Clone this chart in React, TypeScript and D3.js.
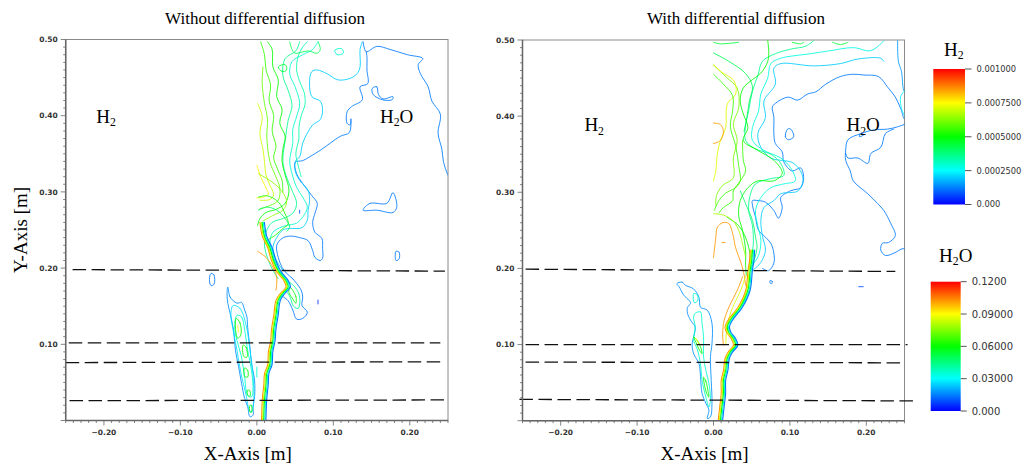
import React from "react";
import * as d3 from "d3";

// ---------- axes / labels ----------
const xTicksMM = [-200, -100, 0, 100, 200];
const yTicksMM = [100, 200, 300, 400, 500];
const panelTitles = ["Without differential diffusion", "With differential diffusion"];
const h2Ticks = [0, 0.00025, 0.0005, 0.00075, 0.001];
const h2TickLabels = ["0.000", "0.0002500", "0.0005000", "0.0007500", "0.001000"];
const h2oTicks = [0, 0.03, 0.06, 0.09, 0.12];
const h2oTickLabels = ["0.000", "0.03000", "0.06000", "0.09000", "0.1200"];

// ---------- contour data (mm; level normalised 0..1) ----------
type C = { lv: number; p: number[][] };

const leftContours: C[] = [
  { lv: 0.12, p: [[139,497],[143,484],[157,491],[174,487],[197,480],[217,475],[211,467],[214,455],[224,438],[229,419],[240,402],[237,377],[242,356],[244,340],[249,324],[250,322]] },
  { lv: 0.12, p: [[143,484],[144,477],[144,460],[145,442],[135,438],[138,421],[124,412],[118,405],[118,390],[122,388],[123,396],[121,378],[109,373],[96,364],[85,356],[69,346],[60,341],[50,339],[52,324],[60,311],[72,295],[79,285],[76,272],[73,260],[76,247],[85,239],[86,226],[86,213],[83,210],[76,214],[73,223],[67,236],[56,240],[43,242],[33,239],[26,230],[28,214],[33,201],[39,193],[46,187],[52,180],[58,171],[60,162],[59,151],[66,142],[60,134],[52,133],[47,145],[41,157],[35,162]] },
  { lv: 0.2, p: [[138,497],[135,487],[135,464],[131,455],[122,449],[106,447],[92,455],[79,460],[72,458],[69,447],[72,425],[83,419],[86,408],[83,395],[73,388],[66,377],[60,364],[56,346],[51,341],[50,328],[56,315],[67,302],[69,289],[67,276],[66,263],[59,253],[43,252],[34,250],[26,240],[21,227],[24,214],[28,206],[34,197]] },
  { lv: 0.3, p: [[80,497],[73,487],[60,480],[46,471],[43,455],[50,438],[56,416],[52,399],[47,382],[47,364],[43,341],[46,324],[52,306],[60,293],[66,280],[60,267],[52,259],[39,256],[30,253],[21,247],[17,233],[20,217],[26,201],[33,191]] },
  { lv: 0.33, p: [[66,497],[60,490],[54,478],[52,460],[56,445],[62,430],[63,415],[58,400],[55,385],[55,370],[51,350],[54,335],[58,320]] },
  { lv: 0.36, p: [[56,497],[51,485],[37,475],[34,453],[41,433],[46,413],[41,394],[37,367],[34,341],[38,322],[46,302],[52,285],[47,272],[34,265],[20,260],[12,247],[10,230],[14,213],[21,197],[28,186]] },
  { lv: 0.42, p: [[43,497],[46,487],[50,482],[67,485],[79,482],[83,487],[80,497]] },
  { lv: 0.3, p: [[102,486],[105,480],[113,482],[111,488],[102,486]] },
  { lv: 0.45, p: [[28,464],[33,458],[39,460],[37,467],[28,464]] },
  { lv: 0.5, p: [[14,497],[20,487],[21,464],[28,447],[26,425],[33,408],[30,390],[37,373],[34,356],[33,340],[37,322],[42,302],[37,285],[25,277],[12,273],[4,265],[1,256]] },
  { lv: 0.55, p: [[5,497],[10,480],[12,460],[18,440],[16,420],[22,400],[20,380],[25,360],[22,345],[27,330],[33,315],[34,300]] },
  { lv: 0.6, p: [[8,464],[7,442],[10,416],[14,395],[13,373],[17,340],[24,322],[30,305],[28,289],[17,282],[4,278]] },
  { lv: 0.7, p: [[1,416],[7,399],[4,377],[8,356],[10,340],[12,322],[17,309],[22,296],[17,290],[4,289]] },
  { lv: 0.76, p: [[0,335],[5,320],[12,305],[15,297],[8,293],[0,292]] },
  { lv: 0.64, p: [[2,324],[17,315],[32,302],[39,287],[34,276],[21,269],[8,262]] },
  { lv: 0.52, p: [[2,293],[13,295],[28,287],[37,271],[41,258],[34,252],[24,243],[14,237]] },
  { lv: 0.4, p: [[2,276],[13,280],[26,276],[37,265],[43,254],[39,248]] },
  { lv: 0.85, p: [[1,222],[12,214],[21,201],[26,188],[25,171]] },
  { lv: 0.35, p: [[39,184],[50,175],[56,162],[54,147],[48,150],[43,163],[37,171]] },
  { lv: 0.5, p: [[43,175],[51,163],[51,154],[46,161],[42,168],[43,175]] },
  { lv: 0.14, p: [[-38,175],[-35,162],[-26,154],[-20,155],[-16,145],[-13,136],[-12,122],[-9,96],[-7,75],[-3,53],[-3,31],[-5,18],[-5,7],[-9,5],[-12,18],[-16,29],[-20,49],[-24,71],[-28,92],[-30,115],[-33,132],[-35,141],[-38,154],[-39,167],[-38,175]] },
  { lv: 0.22, p: [[-31,151],[-22,147],[-14,125],[-9,92],[-5,60],[-4,27],[-7,11],[-10,14],[-14,33],[-21,63],[-26,92],[-31,119],[-34,138],[-31,151]] },
  { lv: 0.3, p: [[-26,138],[-20,136],[-16,119],[-12,92],[-7,66],[-5,40],[-7,31],[-12,33],[-16,57],[-20,83],[-26,105],[-29,122],[-26,138]] },
  { lv: 0.5, p: [[-27,134],[-22,128],[-21,112],[-25,108],[-28,121],[-27,134]] },
  { lv: 0.5, p: [[-18,99],[-14,96],[-13,83],[-17,84],[-18,99]] },
  { lv: 0.5, p: [[-16,69],[-12,66],[-12,57],[-16,58],[-16,69]] },
  { lv: 0.5, p: [[-12,40],[-9,39],[-9,32],[-12,33],[-12,40]] },
  { lv: 0.5, p: [[-9,20],[-7,20],[-7,11],[-9,11],[-9,20]] },
  { lv: 0.75, p: [[-25,125],[-24,116]] },
  { lv: 0.12, p: [[-60,193],[-56,191],[-56,179],[-60,177],[-62,185],[-60,193]] },
  { lv: 0.12, p: [[182,222],[186,221],[186,212],[182,210],[181,217],[182,222]] },
  { lv: 0.12, p: [[139,276],[148,285],[170,285],[178,299],[183,280],[178,273],[157,276],[139,276]] },
  { lv: 0.12, p: [[151,436],[157,438],[159,428],[165,422],[178,425],[177,421],[164,421],[152,428],[151,436]] },
  { lv: 0.05, p: [[80,158],[80,153]] },
  { lv: 0.3, p: [[0,70],[0,57]] },
  { lv: 0.08, p: [[56,276],[56,272]] },
];

const leftStem: number[][] = [[7,260],[10,242],[17,227],[22,210],[29,195],[38,184],[41,175],[34,167],[28,158],[25,138],[22,119],[21,105],[18,90],[17,73],[13,62],[12,47],[10,27],[9,0]];

const rightContours: C[] = [
  { lv: 0.12, p: [[249,397],[245,410],[238,425],[228,438],[216,452],[197,454],[182,455],[166,452],[147,442],[134,432],[123,429],[110,421],[98,425],[84,419],[77,412],[79,399],[79,377],[81,364],[90,353],[92,340],[103,328],[114,332],[118,319],[114,306],[101,302],[88,293],[90,280],[85,266],[79,276],[68,287],[59,289],[51,289],[51,283],[55,267],[59,250],[68,241],[75,233],[79,220],[79,207],[72,197],[64,200]] },
  { lv: 0.15, p: [[241,499],[242,472],[246,459],[249,434],[252,430]] },
  { lv: 0.25, p: [[252,435],[245,426],[247,407],[252,398]] },
  { lv: 0.12, p: [[252,390],[241,386],[228,383],[210,382],[193,377],[176,369],[173,355],[173,342],[179,328],[183,315],[202,298],[215,285],[223,276],[232,259],[238,243],[229,234],[221,233],[219,224],[225,217],[236,220],[248,226],[252,224]] },
  { lv: 0.12, p: [[236,383],[225,377],[219,359],[206,351],[202,338],[189,345],[176,345],[173,351]] },
  { lv: 0.12, p: [[97,383],[94,373],[98,369],[105,373],[101,383],[97,383]] },
  { lv: 0.12, p: [[193,378],[196,375],[191,373],[193,378]] },
  { lv: 0.08, p: [[190,176],[196,176]] },
  { lv: 0.12, p: [[74,184],[77,183],[76,180],[74,181],[74,184]] },
  { lv: 0.2, p: [[223,472],[219,476],[189,475],[166,469],[131,466],[88,469],[79,463],[81,442],[66,420],[68,398],[58,377],[62,359],[75,345],[105,338],[117,319],[111,302],[88,298],[79,289],[66,280],[62,263],[64,243],[68,224],[62,208],[51,197]] },
  { lv: 0.28, p: [[223,499],[206,486],[183,490],[153,486],[127,482],[88,476],[75,469],[71,450],[62,429],[59,407],[51,385],[51,368],[66,355],[88,345],[101,332],[107,315],[92,311],[75,306],[62,293],[55,276],[58,256],[62,237],[59,217],[51,204],[48,197]] },
  { lv: 0.36, p: [[131,499],[121,492],[101,488],[81,482],[64,472],[58,453],[51,433],[46,407],[42,387],[42,368],[55,357],[75,350],[88,338],[92,322],[75,318],[55,311],[48,296],[46,276],[51,256],[52,230],[48,210],[46,197]] },
  { lv: 0.42, p: [[0,483],[20,472],[42,456],[51,439],[47,420],[44,400],[40,380]] },
  { lv: 0.5, p: [[71,499],[72,476],[64,459],[39,437],[35,420],[39,403],[45,385],[39,368],[58,355],[79,342],[90,325],[79,315],[58,315],[45,306],[35,289],[33,269],[38,250],[42,224],[42,204],[43,191]] },
  { lv: 0.45, p: [[0,497],[9,495],[33,497]] },
  { lv: 0.45, p: [[103,497],[114,495],[118,497]] },
  { lv: 0.45, p: [[156,497],[166,494],[176,497]] },
  { lv: 0.55, p: [[38,368],[39,342],[42,328],[35,315],[26,302],[25,289],[13,280],[7,273]] },
  { lv: 0.62, p: [[0,467],[18,450],[31,437],[33,411],[26,390],[31,368],[26,345],[26,319],[12,309],[4,296],[3,283]] },
  { lv: 0.72, p: [[0,468],[9,459],[27,446],[29,429],[18,416],[16,385],[9,368],[5,350],[3,328],[0,315]] },
  { lv: 0.56, p: [[0,455],[12,443],[25,427],[25,407],[22,387],[29,361],[33,335],[35,315],[29,306],[16,299],[7,289],[1,276]] },
  { lv: 0.4, p: [[35,302],[42,285],[51,263],[55,241],[57,228],[53,210],[49,199]] },
  { lv: 0.5, p: [[18,267],[31,258],[40,245],[46,228],[48,215],[47,200]] },
  { lv: 0.66, p: [[0,272],[13,270],[25,263],[33,250],[38,232],[42,215]] },
  { lv: 0.85, p: [[0,214],[3,240],[5,254],[12,260],[20,259],[25,246],[29,227],[35,210],[39,197],[42,178]] },
  { lv: 0.85, p: [[11,234],[15,234]] },
  { lv: 0.85, p: [[0,391],[9,389],[13,380],[9,368],[0,364]] },
  { lv: 0.85, p: [[38,189],[31,171],[21,151],[14,132],[12,115],[13,99]] },
  { lv: 0.72, p: [[42,190],[36,172],[27,153],[20,134],[17,116],[16,100]] },
  { lv: 0.14, p: [[-48,180],[-41,182],[-37,178],[-26,173],[-19,162],[-17,149],[-8,145],[-2,128],[-2,101],[-4,84],[-3,53],[-2,23],[-4,5],[-8,3],[-6,14],[-10,23],[-15,36],[-17,58],[-19,75],[-26,88],[-28,101],[-26,110],[-24,123],[-30,132],[-34,141],[-34,149],[-30,154],[-32,158],[-39,165],[-45,176],[-48,180]] },
  { lv: 0.3, p: [[-24,141],[-17,143],[-15,128],[-13,110],[-13,84],[-10,66],[-6,49],[-4,27],[-6,18],[-10,31],[-15,53],[-17,75],[-21,93],[-26,106],[-24,123],[-26,136],[-24,141]] },
  { lv: 0.3, p: [[-26,167],[-21,165],[-21,157],[-25,155],[-26,167]] },
  { lv: 0.5, p: [[-26,110],[-21,105],[-17,97],[-15,88],[-18,92],[-23,103],[-26,110]] },
  { lv: 0.5, p: [[-13,57],[-10,52],[-7,38],[-6,31],[-9,36],[-12,48],[-13,57]] },
  { lv: 0.75, p: [[-23,108],[-19,101]] },
];

const rightStem: number[][] = [[51,224],[50,210],[48,197],[45,171],[35,149],[22,132],[18,123],[20,116],[26,108],[29,99],[22,90],[18,82],[16,66],[13,53],[13,36],[11,18],[9,0]];

// dashed cut lines: [x0, y0, x1, y1] in mm
const leftCuts = [[-241,198,246,196],[-246,102,240,102],[-250,76,244,77],[-245,26,250,27]];
const rightCuts = [[-246,199,238,196],[-246,100,254,100],[-246,77,249,76],[-254,28,262,26]];

// stem bundle levels (left to right)
const stemLevels = [0.85, 0.7, 0.5, 0.3, 0.12];

// in-plot labels (mm)
const leftLabels = [{ x: -210, y: 391, o: false }, { x: 161, y: 391, o: true }];
const rightLabels = [{ x: -169, y: 380, o: false }, { x: 174, y: 380, o: true }];

const jet = d3.scaleLinear<string>()
  .domain([0, 0.25, 0.5, 0.75, 1])
  .range(["#0000ff", "#00ffff", "#00ff00", "#ffff00", "#ff0000"]);

const serif = "'Liberation Serif', 'DejaVu Serif', serif";
const sans = "'DejaVu Sans', sans-serif";

function Formula({ x, y, o, size }: { x: number; y: number; o: boolean; size: number }) {
  return (
    <text x={x} y={y} fontFamily={serif} fontSize={size} fill="#000">
      H<tspan fontSize={size * 0.62} dy={size * 0.18}>2</tspan>
      {o ? <tspan dy={-size * 0.18}>O</tspan> : null}
    </text>
  );
}

function Panel({ idx, x0, x1, yTop, yBot, contours, stem, cuts, labels, title, titleX }: any) {
  const xs = d3.scaleLinear().domain([-250, 250]).range([x0, x1]);
  const ys = d3.scaleLinear().domain([0, 500]).range([yBot, yTop]);
  const open = d3.line<number[]>().x(d => xs(d[0])).y(d => ys(d[1])).curve(d3.curveCatmullRom.alpha(0.5));
  const closed = d3.line<number[]>().x(d => xs(d[0])).y(d => ys(d[1])).curve(d3.curveCatmullRomClosed.alpha(0.5));
  const path = (p: number[][]) => {
    const f = p[0], l = p[p.length - 1];
    if (p.length > 3 && f[0] === l[0] && f[1] === l[1]) return closed(p.slice(0, -1)) as string;
    return open(p) as string;
  };
  const minorX = d3.range(-250, 251, 10);
  const minorY = d3.range(0, 501, 10);
  const fmt = d3.format(".2f");
  const clipId = `clip${idx}`;
  return (
    <g>
      <defs>
        <clipPath id={clipId}>
          <rect x={x0} y={yTop} width={x1 - x0} height={yBot - yTop} />
        </clipPath>
      </defs>
      <text x={titleX} y={24} textAnchor="middle" fontFamily={serif} fontSize={17}>{title}</text>
      <rect x={x0} y={yTop} width={x1 - x0} height={yBot - yTop} fill="none" stroke="#8a8a8a" strokeWidth={1} />
      <g clipPath={`url(#${clipId})`} fill="none" strokeWidth={1} strokeLinejoin="round" strokeLinecap="round">
        {contours.map((c: C, i: number) => (
          <path key={i} d={path(c.p)} stroke={jet(c.lv)} opacity={0.85} />
        ))}
        {stemLevels.map((lv, i) => (
          <path key={"s" + i} d={open(stem) as string} stroke={jet(lv)} strokeWidth={1.1}
            transform={`translate(${(i - 2) * 1.1},0)`} />
        ))}
      </g>
      {cuts.map((c: number[], i: number) => (
        <line key={i} x1={xs(c[0])} y1={ys(c[1])} x2={xs(c[2])} y2={ys(c[3])}
          stroke="#111" strokeWidth={1.3} strokeDasharray="13.5 5.5" />
      ))}
      {labels.map((l: any, i: number) => (
        <Formula key={i} x={xs(l.x)} y={ys(l.y)} o={l.o} size={19} />
      ))}
      <line x1={x0} y1={yTop} x2={x0} y2={yBot} stroke="#666" strokeWidth={1.5} />
      <line x1={x0} y1={yBot} x2={x1} y2={yBot} stroke="#666" strokeWidth={1.5} />
      {minorY.map(v => (
        <line key={"my" + v} x1={x0 - (v % 100 === 0 ? 5 : 2.5)} x2={x0} y1={ys(v)} y2={ys(v)} stroke="#666" strokeWidth={0.8} />
      ))}
      {minorX.map(v => (
        <line key={"mx" + v} x1={xs(v)} x2={xs(v)} y1={yBot} y2={yBot + (v % 100 === 0 ? 5 : 2.5)} stroke="#666" strokeWidth={0.8} />
      ))}
      {yTicksMM.map(v => (
        <text key={"ty" + v} x={x0 - 8} y={ys(v)} dy="0.35em" textAnchor="end" fontFamily={sans} fontWeight="bold" fontSize={7.5} fill="#333">{fmt(v / 1000)}</text>
      ))}
      {xTicksMM.map(v => (
        <text key={"tx" + v} x={xs(v)} y={yBot + 14} textAnchor="middle" fontFamily={sans} fontWeight="bold" fontSize={7.5} fill="#333">{fmt(v / 1000)}</text>
      ))}
      <text x={(x0 + x1) / 2 - 9} y={460} textAnchor="middle" fontFamily={serif} fontSize={19}>X-Axis [m]</text>
    </g>
  );
}

function ColorBar({ x, y0, y1, w, domain, ticks, labels, fontSize, tickLen, id, titleX, titleY, o }: any) {
  const s = d3.scaleLinear().domain(domain).range([y1, y0]);
  const stops = [0, 0.25, 0.5, 0.75, 1];
  return (
    <g>
      <defs>
        <linearGradient id={id} x1="0" y1="1" x2="0" y2="0">
          {stops.map(t => <stop key={t} offset={t} stopColor={jet(t)} />)}
        </linearGradient>
      </defs>
      <Formula x={titleX} y={titleY} o={o} size={19} />
      <rect x={x} y={y0} width={w} height={y1 - y0} fill={`url(#${id})`} />
      {ticks.map((t: number, i: number) => (
        <g key={i}>
          <line x1={x + w} x2={x + w + tickLen} y1={s(t)} y2={s(t)} stroke="#555" strokeWidth={1} />
          <text x={x + w + tickLen + 5} y={s(t)} dy="0.35em" fontFamily={sans} fontSize={fontSize} fill="#333">{labels[i]}</text>
        </g>
      ))}
    </g>
  );
}

export default function App() {
  return (
    <svg width={1024} height={466} style={{ position: "absolute", left: 0, top: 0, background: "#fff" }}>
      <rect width={1024} height={466} fill="#fff" />
      <Panel idx={0} x0={65.7} x1={448} yTop={39.5} yBot={420.5} contours={leftContours} stem={leftStem}
        cuts={leftCuts} labels={leftLabels} title={panelTitles[0]} titleX={265} />
      <Panel idx={1} x0={522.5} x1={904.5} yTop={40} yBot={420.7} contours={rightContours} stem={rightStem}
        cuts={rightCuts} labels={rightLabels} title={panelTitles[1]} titleX={736} />
      <text transform="translate(27,230) rotate(-90)" textAnchor="middle" fontFamily={serif} fontSize={19}>Y-Axis [m]</text>
      <ColorBar id="gH2" x={933.3} y0={69} y1={204.5} w={31.7} domain={[0, 0.001]} ticks={h2Ticks} labels={h2TickLabels}
        fontSize={8.3} tickLen={6.5} titleX={944} titleY={56} o={false} />
      <ColorBar id="gH2O" x={930.7} y0={281.7} y1={411} w={30} domain={[0, 0.12]} ticks={h2oTicks} labels={h2oTickLabels}
        fontSize={10} tickLen={6} titleX={939} titleY={262} o={true} />
    </svg>
  );
}
